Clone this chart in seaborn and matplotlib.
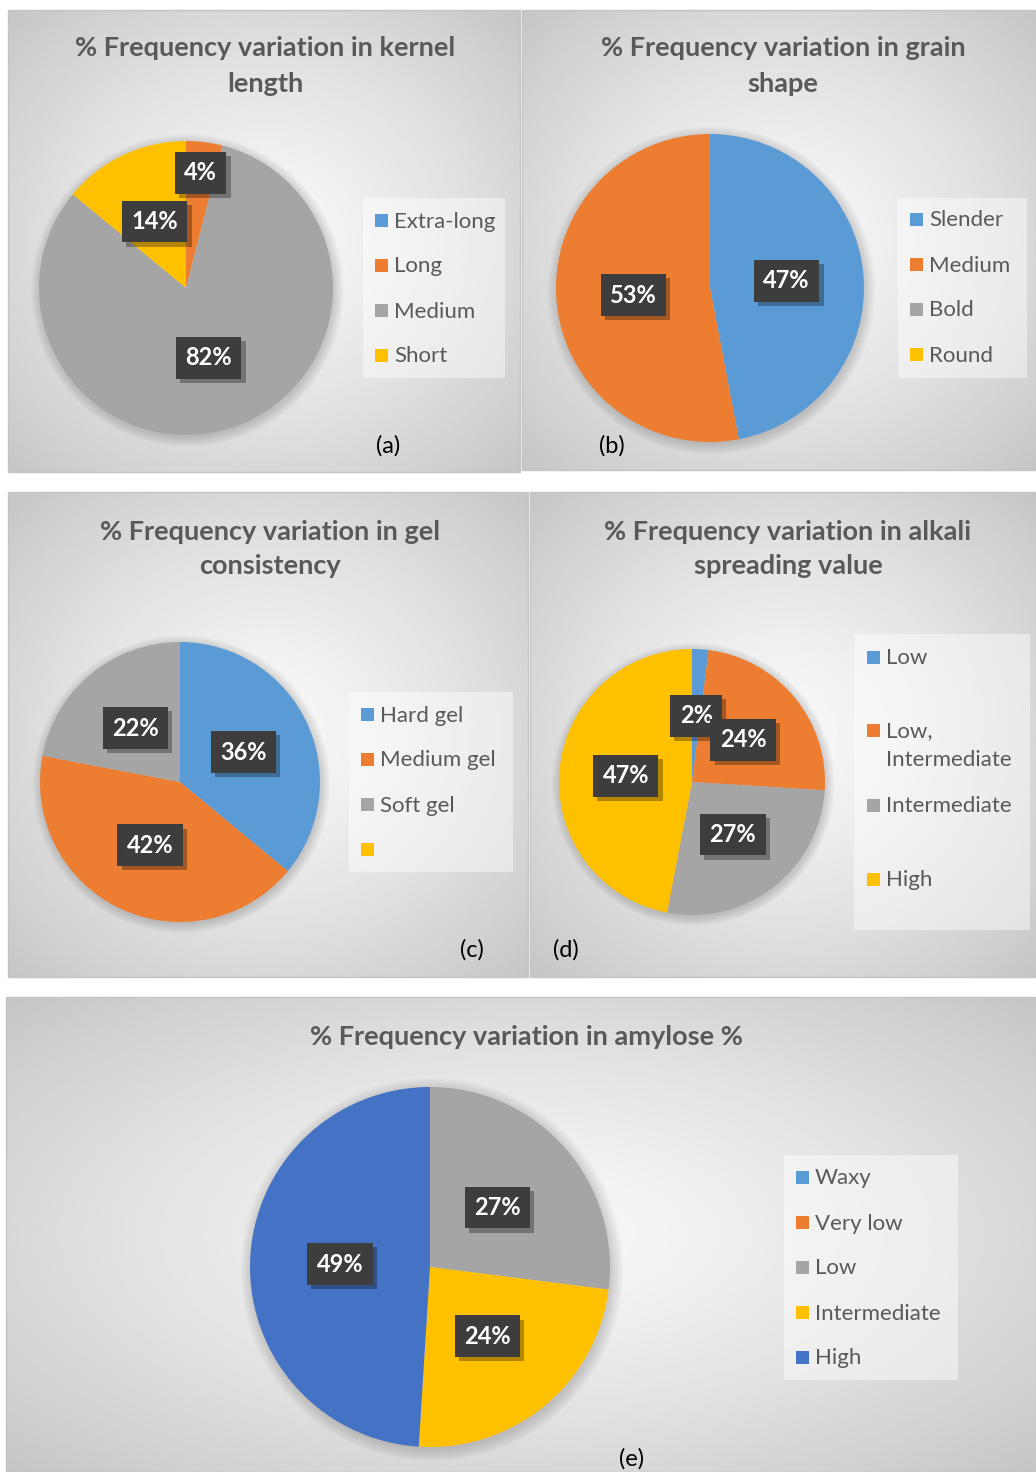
import numpy as np
import matplotlib
matplotlib.use("Agg")
import matplotlib.pyplot as plt
import matplotlib.patheffects as pe
from matplotlib.patches import Rectangle, Circle
import seaborn as sns

# ---------------- data ----------------
kernel_cats = ["Extra-long", "Long", "Medium", "Short"]
kernel_vals = [0, 4, 82, 14]

shape_cats = ["Slender", "Medium", "Bold", "Round"]
shape_vals = [47, 53, 0, 0]

gel_cats = ["Hard gel", "Medium gel", "Soft gel", ""]
gel_vals = [36, 42, 22, 0]

alkali_cats = ["Low", "Low,\nIntermediate", "Intermediate", "High"]
alkali_vals = [2, 24, 27, 47]

amylose_cats = ["Waxy", "Very low", "Low", "Intermediate", "High"]
amylose_vals = [0, 0, 27, 24, 49]

titles = ["% Frequency variation in kernel\nlength",
          "% Frequency variation in grain\nshape",
          "% Frequency variation in gel\nconsistency",
          "% Frequency variation in alkali\nspreading value",
          "% Frequency variation in amylose %"]
panel_tags = ["(a)", "(b)", "(c)", "(d)", "(e)"]

# ---------------- style ----------------
sns.set_theme(style="white")
plt.rcParams["font.family"] = ["Lato", "DejaVu Sans"]

office = ["#5B9BD5", "#ED7D31", "#A5A5A5", "#FFC000", "#4472C4"]
sns.set_palette(office)
TXT = "#595959"

W, H = 1036, 1472
fig = plt.figure(figsize=(W / 100, H / 100), dpi=100)
fig.patch.set_facecolor("white")

ax_bg = fig.add_axes([0, 0, 1, 1], zorder=0)
ax_bg.set_xlim(0, W); ax_bg.set_ylim(H, 0); ax_bg.axis("off")
ax_fg = fig.add_axes([0, 0, 1, 1], zorder=5)
ax_fg.set_xlim(0, W); ax_fg.set_ylim(H, 0); ax_fg.axis("off")
ax_fg.patch.set_alpha(0)

panels = [(8, 10, 520, 472), (522, 10, 1036, 470), (8, 492, 528, 977),
          (530, 492, 1036, 977), (6, 997, 1036, 1472)]

yy, xx = np.mgrid[-1:1:300j, -1:1:300j]
rr = np.sqrt(xx ** 2 + yy ** 2) / np.sqrt(2)
grad = 0.975 - 0.20 * rr ** 1.3
for (x0, y0, x1, y1) in panels:
    ax_bg.imshow(grad, cmap="gray", vmin=0, vmax=1, extent=(x0, x1, y1, y0),
                 aspect="auto", interpolation="bilinear", zorder=1)
    ax_bg.add_patch(Rectangle((x0, y0), x1 - x0, y1 - y0, fill=False,
                              edgecolor="#c4c4c4", lw=1.0, zorder=2))

# ---------------- pies ----------------
pie_specs = [
    dict(vals=kernel_vals, colors=office[:4], c=(186, 288), r=147, dist={1: 0.79}),
    dict(vals=shape_vals, colors=office[:4], c=(710, 288), r=154, dist={}),
    dict(vals=gel_vals, colors=office[:4], c=(180, 782), r=140, dist={}),
    dict(vals=alkali_vals, colors=office[:4], c=(692, 782), r=133, dist={}),
    dict(vals=amylose_vals, colors=office[:5], c=(430, 1267), r=180, dist={}),
]

for spec in pie_specs:
    cx, cy = spec["c"]; r = spec["r"]
    pad = 1.12
    ax = fig.add_axes([(cx - r * pad) / W, 1 - (cy + r * pad) / H, 2 * r * pad / W, 2 * r * pad / H],
                      zorder=2)
    ax.patch.set_alpha(0)
    # soft glow/shadow behind the pie
    for k in range(8):
        ax.add_patch(Circle((0.01, -0.015), 1.0 + 0.009 * k, color="black",
                            alpha=0.018, lw=0, zorder=0))
    wedges, _ = ax.pie(spec["vals"], colors=spec["colors"], startangle=90,
                       counterclock=False, radius=1.0,
                       wedgeprops=dict(linewidth=0, edgecolor="none"))
    for w in wedges:
        w.set_zorder(1)
    ax.set_xlim(-pad, pad); ax.set_ylim(-pad, pad)
    ax.set_aspect("equal"); ax.axis("off")
    for i, (w, v) in enumerate(zip(wedges, spec["vals"])):
        if v <= 0:
            continue
        ang = np.deg2rad((w.theta1 + w.theta2) / 2)
        d = spec["dist"].get(i, 0.5)
        t = ax.text(d * np.cos(ang), d * np.sin(ang), f"{v}%", ha="center", va="center",
                    color="white", fontsize=17, fontweight="bold", zorder=10,
                    bbox=dict(boxstyle="square,pad=0.4", facecolor="#3d3d3d",
                              edgecolor="none", lw=0))
        t.get_bbox_patch().set_path_effects([
            pe.SimplePatchShadow(offset=(3, -3), shadow_rgbFace="black", alpha=0.3),
            pe.Normal()])

# ---------------- titles & tags ----------------
title_pos = [(265, 66), (783, 66), (270, 549), (788, 549), (526, 1037)]
for (x, y), t in zip(title_pos, titles):
    ax_fg.text(x, y, t, ha="center", va="center", fontsize=19.5, fontweight="bold",
               color=TXT, linespacing=1.55, multialignment="center")

tag_pos = [(388, 446), (612, 446), (472, 950), (566, 950), (632, 1459)]
for (x, y), t in zip(tag_pos, panel_tags):
    ax_fg.text(x, y, t, ha="center", va="center", fontsize=17, color="black")

# ---------------- legends ----------------
legend_specs = [
    dict(box=(363, 198, 505, 378), sq=375, ys=[220, 265, 310, 355], cats=kernel_cats, colors=office[:4]),
    dict(box=(898, 198, 1027, 378), sq=910, ys=[219, 264, 309, 354], cats=shape_cats, colors=office[:4]),
    dict(box=(349, 692, 513, 872), sq=361, ys=[714, 759, 804, 849], cats=gel_cats, colors=office[:4]),
    dict(box=(854, 634, 1030, 930), sq=867, ys=[657, 730, 805, 879], cats=alkali_cats, colors=office[:4]),
    dict(box=(784, 1155, 958, 1380), sq=796, ys=[1177, 1222, 1267, 1312, 1357], cats=amylose_cats,
         colors=office[:5]),
]
for L in legend_specs:
    x0, y0, x1, y1 = L["box"]
    ax_fg.add_patch(Rectangle((x0, y0), x1 - x0, y1 - y0, facecolor="white", alpha=0.45,
                              edgecolor="none", zorder=1))
    for y, lab, col in zip(L["ys"], L["cats"], L["colors"]):
        ax_fg.add_patch(Rectangle((L["sq"], y - 6.5), 13, 13, facecolor=col, edgecolor="none", zorder=2))
        lines = lab.split("\n")
        for j, line in enumerate(lines):
            ax_fg.text(L["sq"] + 19, y + 7.5 + 29 * j, line, ha="left", va="baseline",
                       fontsize=16, color=TXT, zorder=3)

fig.savefig("out.png", dpi=100, facecolor="white")
